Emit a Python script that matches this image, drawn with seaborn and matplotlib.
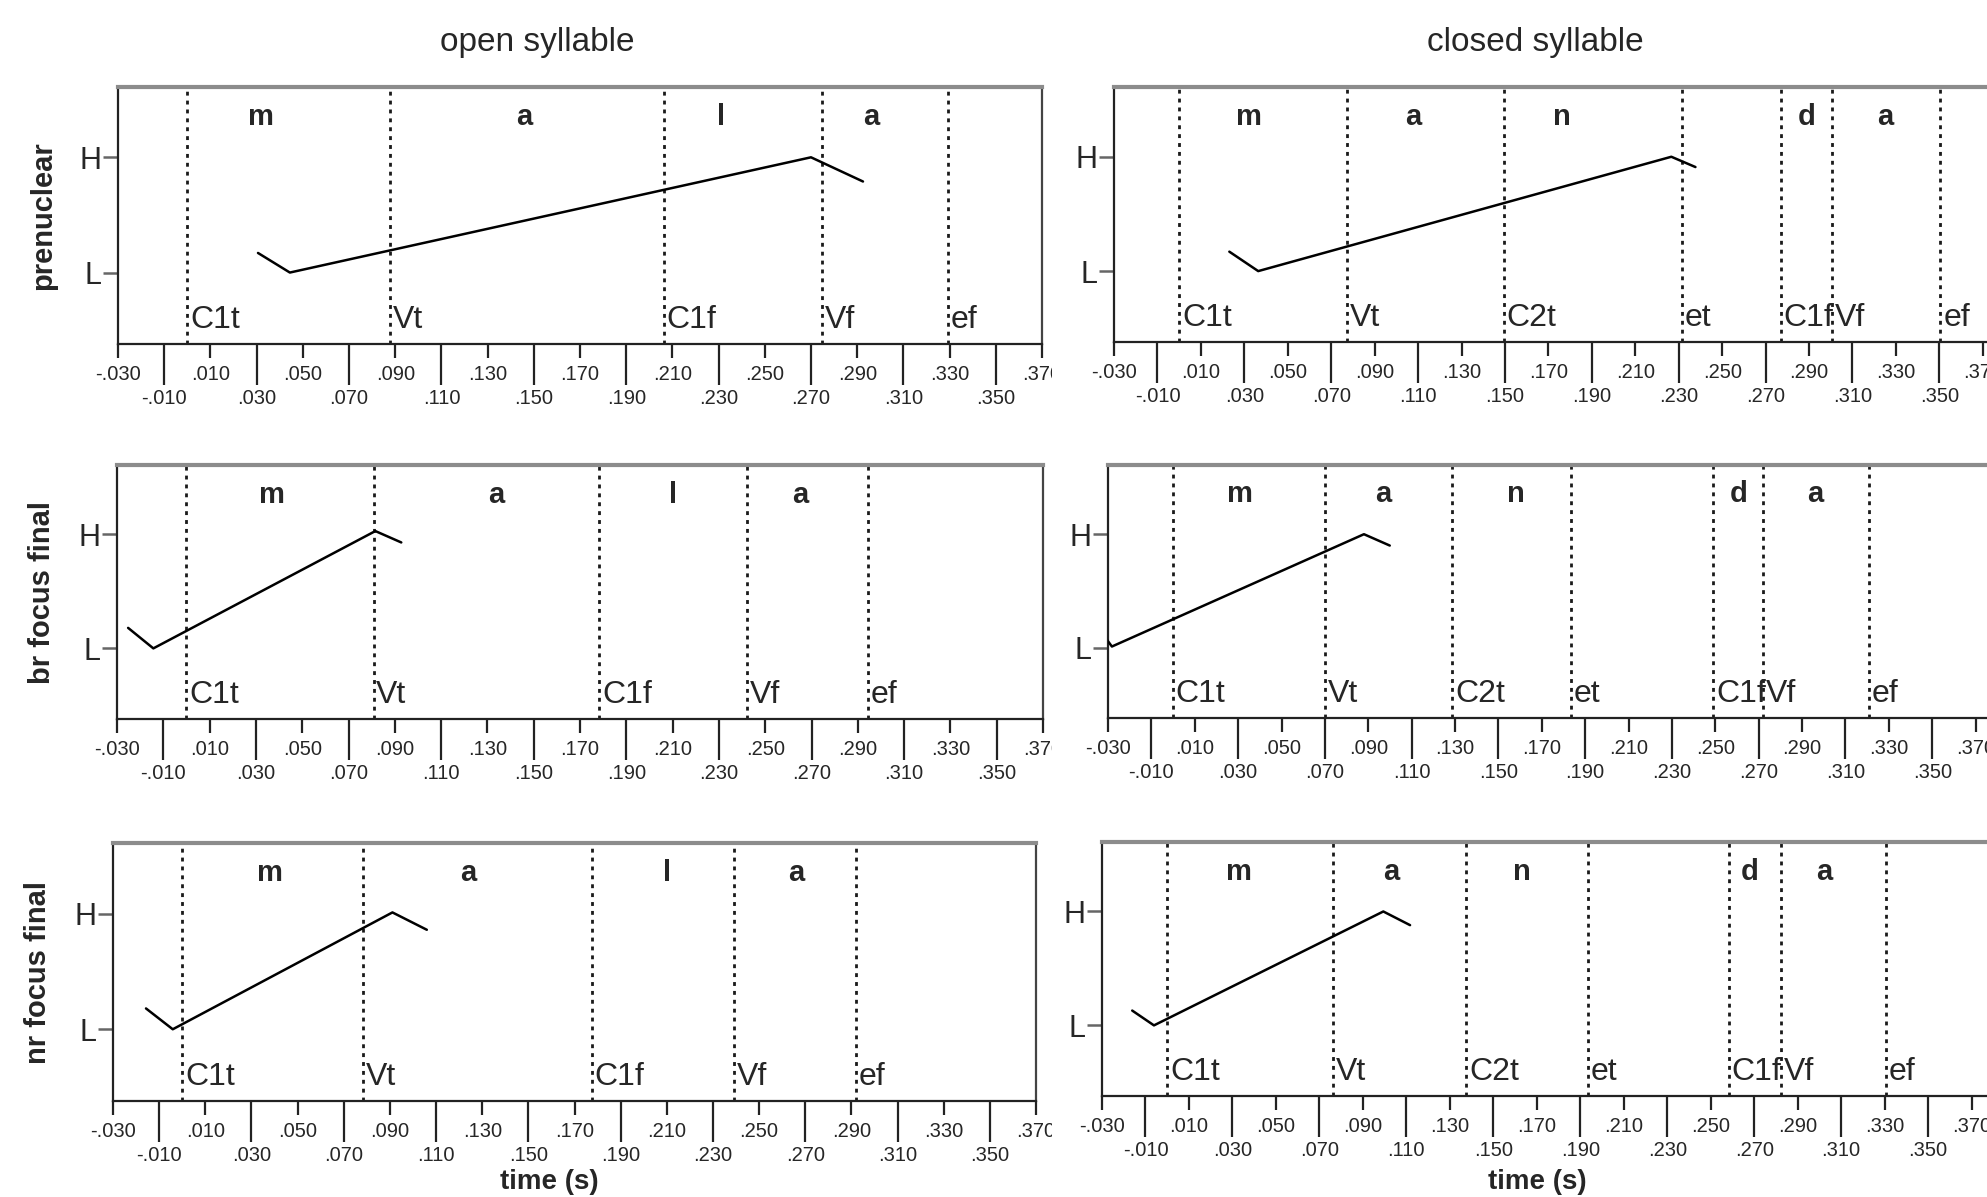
import matplotlib
matplotlib.use("Agg")
import matplotlib.pyplot as plt
import matplotlib.transforms as mtransforms
from matplotlib.ticker import FixedLocator, FuncFormatter
import seaborn as sns
import pandas as pd

sns.set_style("ticks")
plt.rcParams['font.family'] = ['Liberation Sans', 'DejaVu Sans']

# ---- data (time in s, tone level: L=0, H=1) ----
open_segments = ["m", "a", "l", "a"]
closed_segments = ["m", "a", "n", "d", "a"]
open_bound_names = ["C1t", "Vt", "C1f", "Vf", "ef"]
closed_bound_names = ["C1t", "Vt", "C2t", "et", "C1f", "Vf", "ef"]

# prenuclear
open_pre_bounds = [0.000, 0.0877, 0.2063, 0.2748, 0.3294]
open_pre_seg_x = [0.032, 0.146, 0.231, 0.296]
open_pre_t = [0.0306, 0.0444, 0.270, 0.2925]
open_pre_f0 = [0.17, 0.0, 1.0, 0.79]

closed_pre_bounds = [0.000, 0.0773, 0.1496, 0.2316, 0.2770, 0.3008, 0.3505]
closed_pre_seg_x = [0.032, 0.108, 0.176, 0.289, 0.325]
closed_pre_t = [0.0231, 0.0364, 0.2266, 0.2377]
closed_pre_f0 = [0.17, 0.0, 1.0, 0.91]

# broad focus final
open_br_bounds = [0.000, 0.0808, 0.1784, 0.2420, 0.2945]
open_br_seg_x = [0.037, 0.134, 0.210, 0.265]
open_br_t = [-0.0252, -0.0143, 0.0816, 0.0928]
open_br_f0 = [0.18, 0.0, 1.03, 0.93]

closed_br_bounds = [0.000, 0.0702, 0.1287, 0.1835, 0.2490, 0.2718, 0.3208]
closed_br_seg_x = [0.031, 0.097, 0.158, 0.261, 0.296]
closed_br_t = [-0.0305, -0.0282, 0.0880, 0.0999]
closed_br_f0 = [0.07, 0.01, 1.0, 0.90]

# narrow focus final
open_nr_bounds = [0.000, 0.0785, 0.1774, 0.2393, 0.2921]
open_nr_seg_x = [0.038, 0.124, 0.210, 0.266]
open_nr_t = [-0.0157, -0.0041, 0.0911, 0.1060]
open_nr_f0 = [0.18, 0.0, 1.01, 0.86]

closed_nr_bounds = [0.000, 0.0764, 0.1375, 0.1936, 0.2583, 0.2825, 0.3306]
closed_nr_seg_x = [0.033, 0.103, 0.163, 0.268, 0.302]
closed_nr_t = [-0.0161, -0.0061, 0.0994, 0.1117]
closed_nr_f0 = [0.13, 0.0, 1.0, 0.88]

row_labels = ["prenuclear", "br focus final", "nr focus final"]
col_titles = ["open syllable", "closed syllable"]
x_title = "time (s)"
level_labels = ["L", "H"]
major_ticks = [-0.03, 0.01, 0.05, 0.09, 0.13, 0.17, 0.21, 0.25, 0.29, 0.33, 0.37, 0.41]
minor_ticks = [-0.01, 0.03, 0.07, 0.11, 0.15, 0.19, 0.23, 0.27, 0.31, 0.35, 0.39]

W, H = 1987, 1197
fig = plt.figure(figsize=(W / 100, H / 100), dpi=100)

# axes boxes in pixels: left, top, right, bottom, xmax
boxes = [
    [(118, 87, 1042, 344, 0.37), (1114, 87, 1114 + 0.43 * 2172, 342, 0.40)],
    [(117, 465, 1043, 719, 0.37), (1108, 465, 1108 + 0.43 * 2169, 718, 0.40)],
    [(113, 843, 1036, 1101, 0.37), (1102, 842, 1102 + 0.43 * 2174, 1096, 0.40)],
]

panels = [
    [(open_pre_bounds, open_pre_seg_x, open_pre_t, open_pre_f0),
     (closed_pre_bounds, closed_pre_seg_x, closed_pre_t, closed_pre_f0)],
    [(open_br_bounds, open_br_seg_x, open_br_t, open_br_f0),
     (closed_br_bounds, closed_br_seg_x, closed_br_t, closed_br_f0)],
    [(open_nr_bounds, open_nr_seg_x, open_nr_t, open_nr_f0),
     (closed_nr_bounds, closed_nr_seg_x, closed_nr_t, closed_nr_f0)],
]


def fmt(v, pos=None):
    s = f"{v:.3f}"
    return s.replace("0.", ".", 1)


for r in range(3):
    for c in range(2):
        l, t, rr, b, xmax = boxes[r][c]
        ax = fig.add_axes([l / W, 1 - b / H, (rr - l) / W, (b - t) / H])
        bounds, seg_x, ct, cf = panels[r][c]
        segs = open_segments if c == 0 else closed_segments
        bnames = open_bound_names if c == 0 else closed_bound_names

        for bx in bounds:
            ax.axvline(bx, color="#1a1a1a", lw=2.0, ls=(0, (1.4, 1.8)), zorder=1)
        df = pd.DataFrame({"t": ct, "f0": cf})
        sns.lineplot(data=df, x="t", y="f0", sort=False, color="black",
                     lw=1.8, ax=ax, zorder=3)
        for sx, s in zip(seg_x, segs):
            ax.text(sx, 1.35, s, ha="center", va="center", fontsize=21,
                    fontweight="bold")
        for bx, s in zip(bounds, bnames):
            ax.annotate(s, xy=(bx, -0.41), xytext=(2, 0),
                        textcoords="offset points", ha="left", va="center",
                        fontsize=23)

        ax.set_xlim(-0.03, xmax)
        ax.set_ylim(-0.62, 1.61)
        ax.set_yticks([0, 1])
        ax.set_yticklabels(level_labels)
        ax.xaxis.set_major_locator(FixedLocator([v for v in major_ticks if v <= xmax + 1e-9]))
        ax.xaxis.set_minor_locator(FixedLocator([v for v in minor_ticks if v <= xmax + 1e-9]))
        ax.xaxis.set_major_formatter(FuncFormatter(fmt))
        ax.xaxis.set_minor_formatter(FuncFormatter(fmt))
        ax.tick_params(axis="x", which="major", length=10, width=1.6,
                       pad=5, labelsize=14.5, color="#222222")
        ax.tick_params(axis="x", which="minor", length=29.5, width=1.6,
                       pad=3, labelsize=14.5, color="#222222")
        ax.tick_params(axis="y", length=10.5, width=1.8, pad=1.5,
                       labelsize=22, color="#666666")
        ax.set_xlabel("")
        ax.set_ylabel("")

        for side in ["left", "bottom"]:
            ax.spines[side].set_color("#222222")
            ax.spines[side].set_linewidth(1.6)
        ax.spines["top"].set_color("#8c8c8c")
        ax.spines["top"].set_linewidth(3.0)
        ax.spines["right"].set_color("#444444")
        ax.spines["right"].set_linewidth(1.6)

        if c == 0:
            ax.set_ylabel(row_labels[r], fontsize=21, fontweight="bold")
            ax.yaxis.set_label_coords(-0.066, 0.5)
            # last tick label is cut off by the neighbouring chart
            clip = mtransforms.TransformedBbox(
                mtransforms.Bbox.from_extents(0, 0, 1052 / W, 1), fig.transFigure)
            lab = ax.xaxis.get_major_ticks()[-1].label1
            lab.set_clip_on(True)
            lab.set_clip_box(clip)

fig.text(537 / W, 1 - 42 / H, col_titles[0], ha="center", va="center", fontsize=24)
fig.text(1535 / W, 1 - 42 / H, col_titles[1], ha="center", va="center", fontsize=24)
fig.text(549 / W, 1 - 1182 / H, x_title, ha="center", va="center",
         fontsize=20, fontweight="bold")
fig.text(1537 / W, 1 - 1182 / H, x_title, ha="center", va="center",
         fontsize=20, fontweight="bold")

fig.savefig("out.png", dpi=100)
